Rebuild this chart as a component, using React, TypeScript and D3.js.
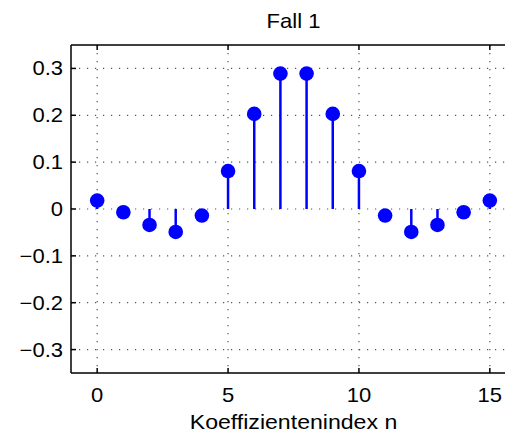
import React, { useEffect, useRef } from "react";
import * as d3 from "d3";

// coefficient index and values
const indices = [0, 1, 2, 3, 4, 5, 6, 7, 8, 9, 10, 11, 12, 13, 14, 15];
const coeffs = [0.018, -0.007, -0.034, -0.049, -0.014, 0.081, 0.203, 0.289, 0.289, 0.203, 0.081, -0.014, -0.049, -0.034, -0.007, 0.018];
const xTicks = [0, 5, 10, 15];
const yTicks = [-0.3, -0.2, -0.1, 0, 0.1, 0.2, 0.3];
const title = "Fall 1";
const xLabel = "Koeffizientenindex n";

const App = () => {
  const ref = useRef<SVGSVGElement | null>(null);

  useEffect(() => {
    const width = 505;
    const height = 434;
    const margin = { top: 45, right: -11, bottom: 61, left: 71 };
    const font = "'Liberation Sans', Arial, Helvetica, sans-serif";
    const stretch = 1.1; // the reference glyphs are a bit wider than Liberation Sans

    const x = d3.scaleLinear().domain([-1, 16]).range([margin.left, width - margin.right]);
    const y = d3.scaleLinear().domain([-0.35, 0.35]).range([height - margin.bottom, margin.top]);

    const svg = d3.select(ref.current);
    svg.selectAll("*").remove();
    svg.append("rect").attr("width", width).attr("height", height).attr("fill", "#fff");

    // dotted grid
    const grid = svg.append("g").attr("stroke", "#555").attr("stroke-width", 1.2).attr("stroke-dasharray", "1.2,6.8");
    grid
      .selectAll("line.gx")
      .data(xTicks)
      .enter()
      .append("line")
      .attr("x1", (d) => x(d))
      .attr("x2", (d) => x(d))
      .attr("y1", y(0.35))
      .attr("y2", y(-0.35));
    grid
      .selectAll("line.gy")
      .data(yTicks)
      .enter()
      .append("line")
      .attr("x1", x(-1))
      .attr("x2", x(16))
      .attr("y1", (d) => y(d))
      .attr("y2", (d) => y(d));

    // box (right side is cut off by the window)
    const box = svg.append("g").attr("stroke", "#000").attr("stroke-width", 1.5).attr("fill", "none");
    box.append("line").attr("x1", x(-1)).attr("x2", x(16)).attr("y1", y(0.35)).attr("y2", y(0.35));
    box.append("line").attr("x1", x(-1)).attr("x2", x(16)).attr("y1", y(-0.35)).attr("y2", y(-0.35));
    box.append("line").attr("x1", x(-1)).attr("x2", x(-1)).attr("y1", y(0.35)).attr("y2", y(-0.35));

    // inward ticks
    const tk = 5;
    xTicks.forEach((t) => {
      box.append("line").attr("x1", x(t)).attr("x2", x(t)).attr("y1", y(-0.35)).attr("y2", y(-0.35) - tk);
      box.append("line").attr("x1", x(t)).attr("x2", x(t)).attr("y1", y(0.35)).attr("y2", y(0.35) + tk);
    });
    yTicks.forEach((t) => {
      box.append("line").attr("x1", x(-1)).attr("x2", x(-1) + tk).attr("y1", y(t)).attr("y2", y(t));
    });

    const label = (tx: number, ty: number, anchor: string, size: number, s: string) =>
      svg
        .append("text")
        .attr("transform", `translate(${tx},${ty}) scale(${stretch},1)`)
        .attr("text-anchor", anchor)
        .attr("font-family", font)
        .attr("font-size", size)
        .attr("fill", "#000")
        .text(s);

    // tick labels
    const fmt = (d: number) => (d === 0 ? "0" : d3.format(".1f")(d).replace("-", "\u2212"));
    yTicks.forEach((t) => label(x(-1) - 8, y(t) + 7, "end", 20, fmt(t)));
    xTicks.forEach((t) => label(x(t), 402, "middle", 20, String(t)));

    // stems and markers
    const stems = svg.append("g");
    stems
      .selectAll("line")
      .data(indices)
      .enter()
      .append("line")
      .attr("x1", (d) => x(d))
      .attr("x2", (d) => x(d))
      .attr("y1", y(0))
      .attr("y2", (d, i) => y(coeffs[i]))
      .attr("stroke", "#0000ff")
      .attr("stroke-width", 2.5);
    stems
      .selectAll("circle")
      .data(indices)
      .enter()
      .append("circle")
      .attr("cx", (d) => x(d))
      .attr("cy", (d, i) => y(coeffs[i]))
      .attr("r", 7.3)
      .attr("fill", "#0000ff");

    // title and axis label
    const cx = (x(-1) + x(16)) / 2;
    label(cx, 28, "middle", 20, title);
    label(cx, 429, "middle", 21, xLabel);
  }, []);

  return (
    <svg
      ref={ref}
      width={505}
      height={434}
      style={{ position: "absolute", left: 0, top: 0, display: "block" }}
    />
  );
};

export default App;
